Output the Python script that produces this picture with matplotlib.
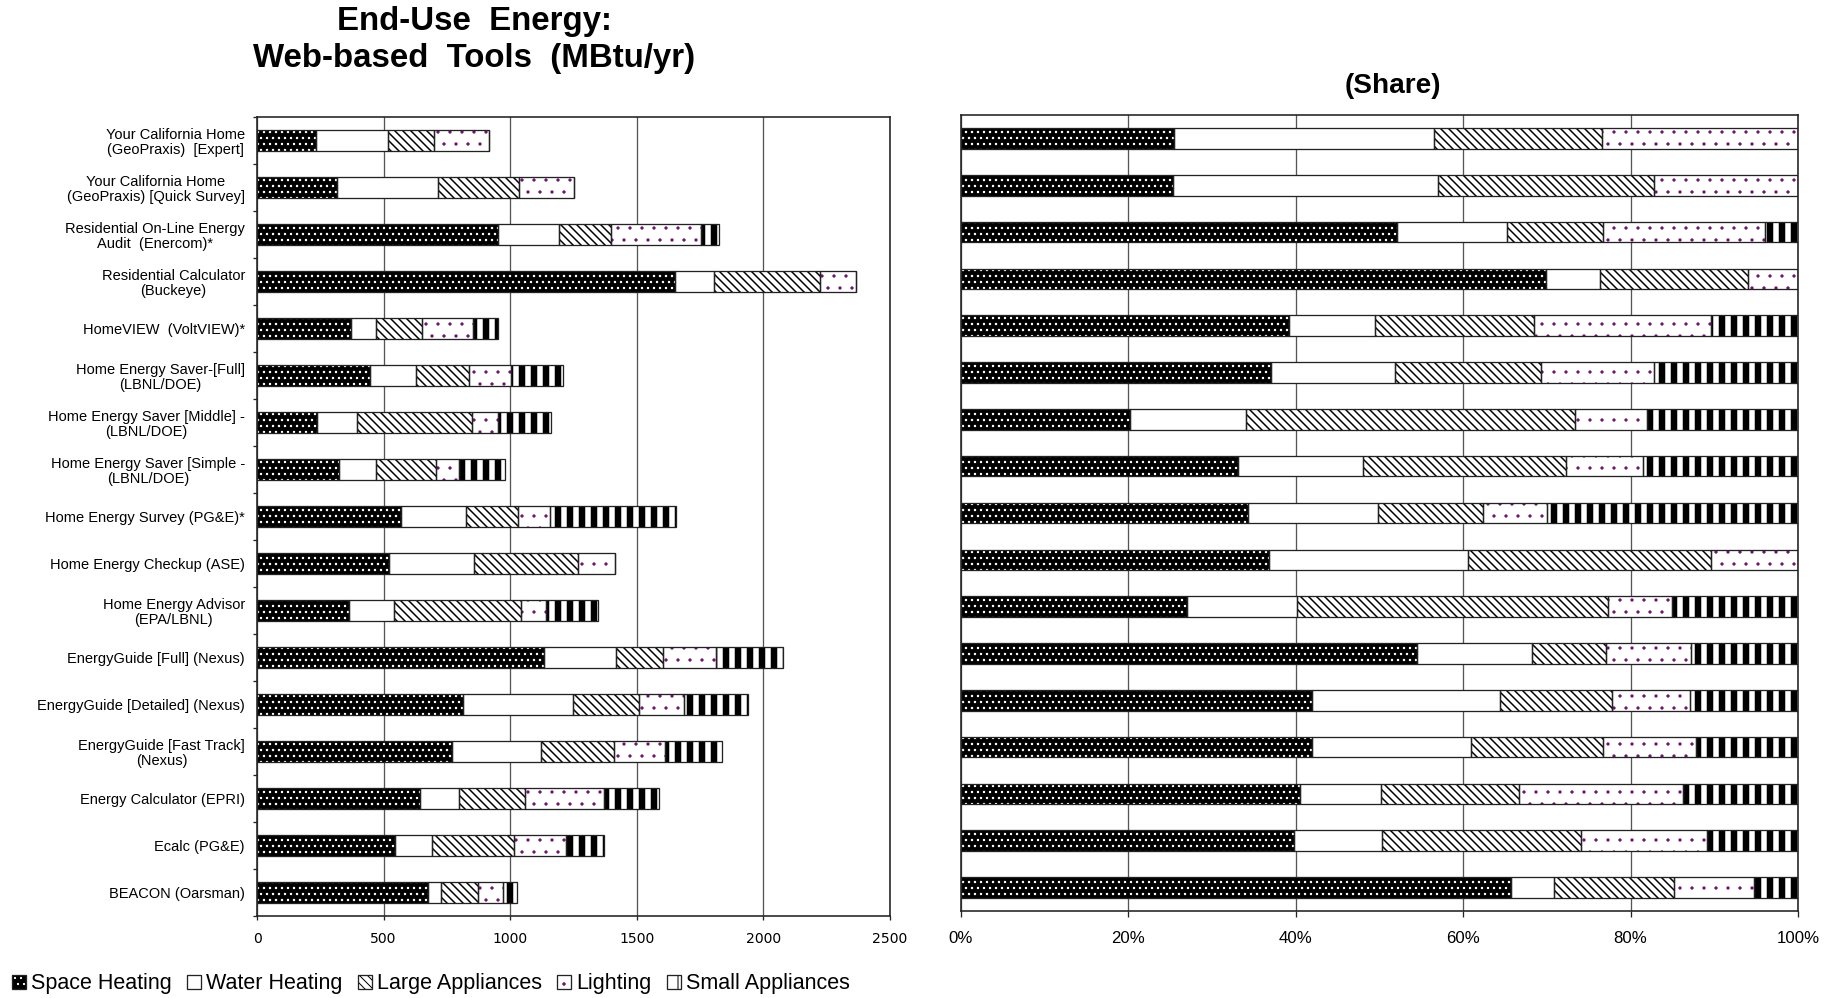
import numpy as np
import matplotlib
matplotlib.use("Agg")
import matplotlib.pyplot as plt
from matplotlib.patches import Patch

plt.rcParams['font.family'] = ['Liberation Sans', 'DejaVu Sans']

# MBtu/yr per tool
tools = [
    "Your California Home\n(GeoPraxis)  [Expert]",
    "Your California Home\n(GeoPraxis) [Quick Survey]",
    "Residential On-Line Energy\nAudit  (Enercom)*",
    "Residential Calculator\n(Buckeye)",
    "HomeVIEW  (VoltVIEW)*",
    "Home Energy Saver-[Full]\n(LBNL/DOE)",
    "Home Energy Saver [Middle] -\n(LBNL/DOE)",
    "Home Energy Saver [Simple -\n(LBNL/DOE)",
    "Home Energy Survey (PG&E)*",
    "Home Energy Checkup (ASE)",
    "Home Energy Advisor\n(EPA/LBNL)",
    "EnergyGuide [Full] (Nexus)",
    "EnergyGuide [Detailed] (Nexus)",
    "EnergyGuide [Fast Track]\n(Nexus)",
    "Energy Calculator (EPRI)",
    "Ecalc (PG&E)",
    "BEACON (Oarsman)",
]
space_heating = [233, 317, 952, 1652, 373, 448, 235, 324, 568, 520, 364, 1133, 812, 771, 643, 545, 674]
water_heating = [285, 396, 240, 153, 98, 179, 161, 147, 256, 337, 177, 286, 437, 349, 153, 145, 52]
large_appliances = [183, 323, 208, 419, 181, 212, 455, 237, 208, 410, 500, 183, 260, 290, 261, 326, 147]
lighting = [215, 215, 353, 140, 201, 163, 101, 91, 126, 147, 102, 210, 179, 203, 312, 206, 98]
small_appliances = [0, 0, 73, 0, 99, 208, 209, 181, 496, 0, 203, 267, 251, 224, 217, 149, 54]

end_uses = ["Space Heating", "Water Heating", "Large Appliances", "Lighting", "Small Appliances"]

# at 72 dpi one point is one pixel, and the hatch tile is 72 px
DPI = 72

# face, hatch, hatch colour, hatch linewidth
styles = [
    ("black", "..", "white", 1.2),
    ("white", "", "black", 1.0),
    ("white", "\\\\\\", "black", 1.5),
    ("white", ".", "#6b0f6b", 0.8),
    ("white", "|", "black", 6.5),
]

series = np.array([space_heating, water_heating, large_appliances, lighting, small_appliances], dtype=float)
shares = series / series.sum(axis=0)
y = np.arange(len(tools))
BAR_H = 0.44
OUTLINE = "#222222"


def draw_stacked(ax, data):
    left = np.zeros(len(tools))
    for vals, (face, hatch, hcolor, hlw) in zip(data, styles):
        bars = ax.barh(y, vals, left=left, height=BAR_H, color=face, hatch=hatch,
                       edgecolor=hcolor, linewidth=0, zorder=2)
        for b in bars:
            b.set_hatch_linewidth(hlw)
        ax.barh(y, vals, left=left, height=BAR_H, fill=False,
                edgecolor=OUTLINE, linewidth=1.3, zorder=3)
        left += vals


def style_axes(ax):
    ax.set_ylim(len(tools) - 0.5, -0.5)
    ax.set_axisbelow(True)
    ax.xaxis.grid(True, color="#555555", linewidth=1.3)
    for s in ax.spines.values():
        s.set_color(OUTLINE)
        s.set_linewidth(1.6)


fig = plt.figure(figsize=(1841 / DPI, 998 / DPI), dpi=DPI)
ax1 = fig.add_axes([257 / 1841, 1 - 916 / 998, (890 - 257) / 1841, (916 - 117) / 998])
ax2 = fig.add_axes([961 / 1841, 1 - 911 / 998, (1798 - 961) / 1841, (911 - 115) / 998])

# left: absolute values
draw_stacked(ax1, series)
style_axes(ax1)
ax1.set_xlim(0, 2500)
ax1.set_xticks([0, 500, 1000, 1500, 2000, 2500])
ax1.set_xticklabels(["0", "500", "1000", "1500", "2000", "2500"], family="DejaVu Sans", fontsize=14)
ax1.tick_params(axis="x", length=4, width=1.3, pad=12, color=OUTLINE)
ax1.set_yticks(y)
ax1.set_yticklabels(tools, fontsize=14.6, multialignment="center", linespacing=1.1)
ax1.set_yticks(np.arange(-0.5, len(tools)), minor=True)
ax1.tick_params(axis="y", which="major", length=0, pad=12)
ax1.tick_params(axis="y", which="minor", length=4, width=1.3, color=OUTLINE)

# right: shares
draw_stacked(ax2, shares)
style_axes(ax2)
ax2.set_xlim(0, 1)
ax2.set_xticks([0, 0.2, 0.4, 0.6, 0.8, 1.0])
ax2.set_xticklabels(["0%", "20%", "40%", "60%", "80%", "100%"], fontsize=16.7)
ax2.tick_params(axis="x", length=6, width=1.3, pad=14, color=OUTLINE)
ax2.set_yticks([])

fig.text(474 / 1841, 1 - 40 / 998, "End-Use  Energy:\nWeb-based  Tools  (MBtu/yr)",
         ha="center", va="center", fontsize=33, fontweight="bold", linespacing=1.28)
fig.text(1393 / 1841, 1 - 86 / 998, "(Share)", ha="center", va="center",
         fontsize=28, fontweight="bold")

handles = []
for face, hatch, hcolor, hlw in styles:
    h1 = Patch(facecolor=face, hatch=hatch, edgecolor=hcolor, linewidth=0)
    h1.set_hatch_linewidth(min(hlw, 4))
    h2 = Patch(fill=False, edgecolor=OUTLINE, linewidth=1.3)
    handles.append((h1, h2))

fig.legend(handles, end_uses, loc="center left", bbox_to_anchor=(12 / 1841, 1 - 984 / 998),
           ncol=5, frameon=False, fontsize=21.5, handlelength=0.65, handleheight=0.65,
           handletextpad=0.25, columnspacing=0.7, borderpad=0, borderaxespad=0)

fig.savefig("out.png", dpi=DPI)
